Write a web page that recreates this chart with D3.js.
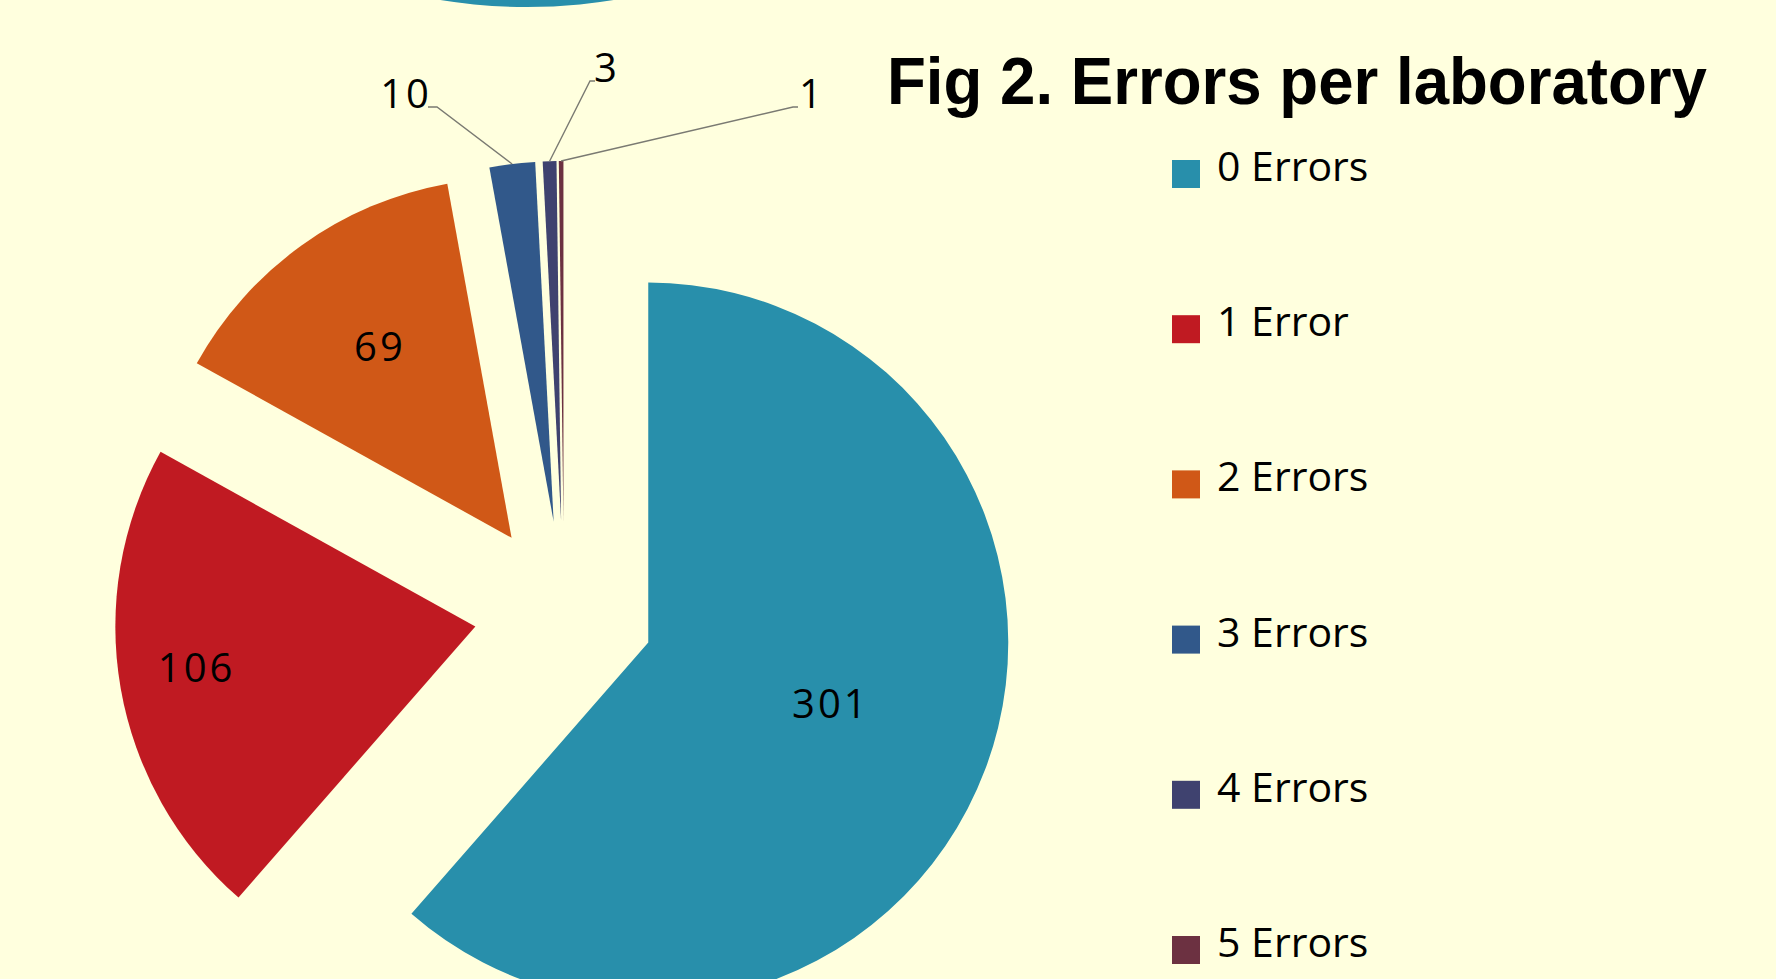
<!DOCTYPE html>
<html>
<head>
<meta charset="utf-8">
<script src="https://cdn.jsdelivr.net/npm/d3@7"></script>
<style>
    html, body { margin: 0; padding: 0; background: #FFFFDE; overflow: hidden; }
    svg { display: block; }
</style>
</head>
<body>
<div id="chart"></div>
<script>
'use strict';

// data
let categories = ['0 Errors', '1 Error', '2 Errors', '3 Errors', '4 Errors', '5 Errors'];
let counts = [301, 106, 69, 10, 3, 1];
let colors = ['#288FAB', '#C01A22', '#D05817', '#31588A', '#3F426F', '#6C3141'];

let w = 1776, h = 979;
let cx = 564, cy = 611, radius = 360;
let explode = 90;

// inside labels (big slices) sit at this distance from their apex
let insideLabelR = [195, 283, 226];
// outside callouts for the thin slices: elbow point + text side
let callouts = [
    null, null, null,
    {x: 437, y: 107, side: 'left', tx: 432},
    {x: 590, y: 81, side: 'right', tx: 594},
    {x: 793, y: 107, side: 'right', tx: 799}
];

let svg = d3.select('#chart').append('svg')
    .attr('width', w).attr('height', h);

svg.append('rect').attr('width', w).attr('height', h).attr('fill', '#FFFFDE');

// bottom edge of the previous figure's pie peeking in at the top
svg.append('circle')
    .attr('cx', 527).attr('cy', 7 - 540).attr('r', 540)
    .attr('fill', '#288FAB');

let pie = d3.pie().sort(null).value(d => d)(counts);
let arc = d3.arc().innerRadius(0).outerRadius(radius);

let offset = (d, dist) => {
    let mid = (d.startAngle + d.endAngle) / 2;
    return [dist * Math.sin(mid), -dist * Math.cos(mid)];
};

let slices = svg.append('g').attr('transform', `translate(${cx},${cy})`)
    .selectAll('g.slice').data(pie).enter().append('g')
    .attr('class', 'slice')
    .attr('transform', d => {
        let [dx, dy] = offset(d, explode);
        return `translate(${dx},${dy})`;
    });

slices.append('path')
    .attr('d', arc)
    .attr('fill', (d, i) => colors[i]);

// labels inside the three big slices
slices.filter((d, i) => i < 3).append('text')
    .attr('transform', (d, i) => {
        let [x, y] = offset(d, insideLabelR[i]);
        return `translate(${x},${y})`;
    })
    .attr('text-anchor', 'middle')
    .attr('dy', '0.16em')
    .style('font-family', '"Open Sans", "Noto Sans", sans-serif')
    .style('font-size', '40px')
    .style('letter-spacing', '3px')
    .attr('fill', '#000')
    .text(d => d.data);

// callouts for the thin slices
let outer = svg.append('g');
pie.forEach((d, i) => {
    let c = callouts[i];
    if (!c) return;
    let [ox, oy] = offset(d, explode + radius);
    let endX = c.side === 'left' ? c.x - 9 : c.x + 5;
    outer.append('path')
        .attr('d', d3.line()([[cx + ox, cy + oy], [c.x, c.y], [endX, c.y]]))
        .attr('fill', 'none')
        .attr('stroke', '#7a7a72')
        .attr('stroke-width', 1.4);
    outer.append('text')
        .attr('x', c.tx)
        .attr('y', c.y + 1)
        .attr('text-anchor', c.side === 'left' ? 'end' : 'start')
        .style('font-family', '"Open Sans", "Noto Sans", sans-serif')
        .style('font-size', '40px')
        .style('letter-spacing', '3px')
        .attr('fill', '#000')
        .text(d.data);
});

// title
svg.append('text')
    .attr('x', 887).attr('y', 104)
    .attr('textLength', 820).attr('lengthAdjust', 'spacingAndGlyphs')
    .style('font-family', '"Liberation Sans", Arial, sans-serif')
    .style('font-weight', 'bold')
    .style('font-size', '66px')
    .attr('fill', '#000')
    .text('Fig 2. Errors per laboratory');

// legend
let legend = svg.append('g').selectAll('g').data(categories).enter().append('g')
    .attr('transform', (d, i) => `translate(1172,${181 + i * 155.2})`);

legend.append('rect')
    .attr('x', 0).attr('y', -21)
    .attr('width', 28).attr('height', 28)
    .attr('fill', (d, i) => colors[i]);

legend.append('text')
    .attr('x', 45).attr('y', 0)
    .style('font-family', '"Open Sans", "Noto Sans", sans-serif')
    .style('font-size', '41px')
    .attr('fill', '#000')
    .text(d => d);
</script>
</body>
</html>
